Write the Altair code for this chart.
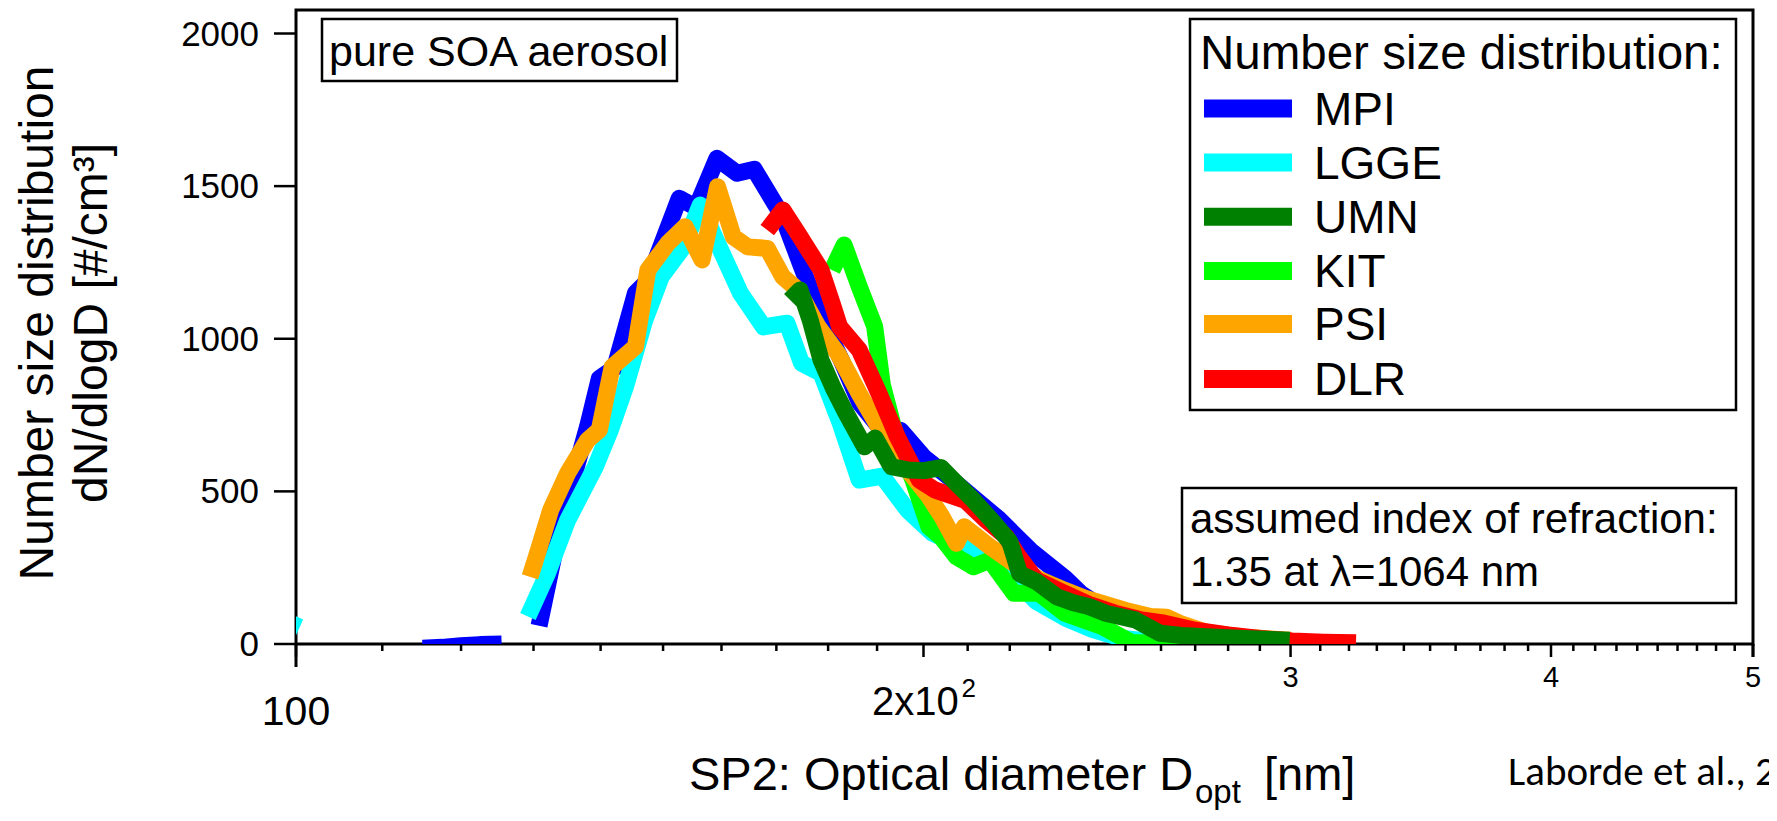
import altair as alt
import pandas as pd

# ---------------- data ----------------
labs = ["MPI", "LGGE", "UMN", "KIT", "PSI", "DLR"]
colors = ["#0000FF", "#00FFFF", "#008000", "#00FF00", "#FFA500", "#FF0000"]
draw_order = ["MPI", "LGGE", "KIT", "PSI", "DLR", "UMN"]

mpi_a_d = [115, 117.5, 120, 122.5, 125.5]
mpi_a_v = [-14, -11, -6, -2, 0]
mpi_d = [130.8, 134, 138, 139.8, 142.2, 145.5, 147.5, 152.7, 155.6, 159.2, 162.8, 165.9,
         171.2, 174.8, 178.5, 182.5, 186.4, 190.4, 195, 200.2, 205, 211.4, 217.3, 225.2,
         233.9, 238, 243, 249.3, 258, 267.4, 280, 290, 299.7]
mpi_v = [60, 400, 712, 870, 905, 1150, 1190, 1460, 1430, 1591, 1542, 1555,
         1400, 1236, 1075, 935, 790, 712, 700, 610, 555, 478, 410, 305,
         215, 165, 125, 95, 65, 45, 25, 15, 8]

lgge_a_d = [96, 100.4]
lgge_a_v = [115, 55]
lgge_d = [129.2, 132, 135, 139.2, 141.5, 143.9, 147, 149.7, 153.4, 156.3, 159.3, 163.4,
          167.6, 172, 174.8, 178.6, 182.5, 186.3, 191.1, 196.5, 202, 206, 211.3, 215,
          220, 226.5, 234, 241, 249.2, 260, 270, 280]
lgge_v = [90, 230, 406, 581, 700, 843, 1061, 1203, 1301, 1438, 1313, 1149,
          1039, 1051, 920, 887, 720, 537, 550, 439, 363, 335, 308, 297,
          230, 140, 85, 48, 18, 6, 2, 0]

kit_d = [180.8, 183.2, 186.3, 189.5, 191.1, 194, 197.7, 201.2, 203.9, 207.4, 211.3, 215.2,
         221, 227.2, 233.8, 243.6, 251.7, 261, 275, 290]
kit_v = [1225, 1307, 1171, 1040, 850, 680, 537, 384, 351, 286, 253, 275,
         166, 166, 101, 57, 5, 2, 0, 0]

psi_d = [129.5, 130.6, 132.5, 135, 138, 139.8, 141.8, 145.5, 147.5, 150.8, 153.7, 156.6,
         159.3, 162.1, 164.7, 168.3, 171.2, 174.1, 178, 182, 186.3, 190, 195, 201.2,
         204, 207.4, 209.2, 215.2, 222.2, 227.5, 233, 239, 250, 257, 261.6, 266, 273.4,
         285, 300]
psi_v = [220, 300, 440, 560, 668, 701, 908, 974, 1225, 1313, 1367, 1258,
         1498, 1334, 1301, 1296, 1203, 1160, 1040, 950, 820, 720, 600, 483,
         420, 330, 384, 319, 253, 210, 180, 150, 110, 90, 88, 65, 38,
         22, 12]

umn_d = [172.6, 174.5, 176.5, 178.6, 181, 183.6, 187.4, 189.6, 193, 196.7, 200.1, 203.9,
         207.5, 211.3, 216, 220, 222.4, 226.5, 231.7, 236, 240.2, 244.8, 252.7, 259.7,
         266, 273.4, 285, 299.7]
umn_v = [1127, 1160, 1060, 930, 840, 756, 646, 675, 581, 570, 568, 578,
         525, 472, 400, 335, 230, 205, 155, 135, 122, 100, 79, 35,
         28, 24, 18, 12]

dlr_d = [168.3, 171.2, 174.1, 178.6, 180.8, 182.3, 186.3, 190.4, 194.3, 199.1, 202.5, 209.5,
         214, 219.1, 222, 226.5, 233.8, 240, 247.1, 254, 261, 270, 280, 290, 300.5, 311, 322.5]
dlr_v = [1356, 1422, 1345, 1225, 1116, 1039, 963, 821, 679, 537, 505, 470,
         410, 352, 290, 210, 166, 130, 101, 80, 68, 45, 30, 18, 10, 6, 4]

x_major = [100, 200, 300, 400, 500]
x_minor = [110, 120, 130, 140, 150, 160, 170, 180, 190,
           210, 220, 230, 240, 250, 260, 270, 280, 290,
           310, 320, 330, 340, 350, 360, 370, 380, 390,
           410, 420, 430, 440, 450, 460, 470, 480, 490]
y_ticks = [0, 500, 1000, 1500, 2000]

# ---------------- build tables ----------------
rows = []
def add(lab, seg, ds, vs):
    for d, v in zip(ds, vs):
        rows.append({"lab": lab, "seg": seg, "d": d, "v": v})

add("MPI", "MPI_a", mpi_a_d, mpi_a_v)
add("MPI", "MPI_b", mpi_d, mpi_v)
add("LGGE", "LGGE_a", lgge_a_d, lgge_a_v)
add("LGGE", "LGGE_b", lgge_d, lgge_v)
add("KIT", "KIT", kit_d, kit_v)
add("PSI", "PSI", psi_d, psi_v)
add("UMN", "UMN", umn_d, umn_v)
add("DLR", "DLR", dlr_d, dlr_v)
df = pd.DataFrame(rows)
col = dict(zip(labs, colors))

FONT = "Liberation Sans"
sx = alt.Scale(type="log", domain=[100, 500], nice=False)
sy = alt.Scale(domain=[0, 2077], nice=False, zero=False)
W, H = 1457, 634
LW = 17

def X(f="d"):
    return alt.X(f"{f}:Q", scale=sx, axis=None)

def Y(f="v"):
    return alt.Y(f"{f}:Q", scale=sy, axis=None)

layers = []

# lines
for lab in draw_order:
    layers.append(
        alt.Chart(df).transform_filter(alt.datum.lab == lab)
        .mark_line(clip=True, strokeWidth=LW, strokeCap="butt", strokeJoin="round", color=col[lab])
        .encode(x=X(), y=Y(), detail="seg:N")
    )

# x ticks
maj = pd.DataFrame({"d": x_major})
mnr = pd.DataFrame({"d": x_minor})
layers.append(alt.Chart(maj).mark_rule(color="black", strokeWidth=2.5)
              .encode(x=X(), y=alt.value(H), y2=alt.value(H + 13)))
layers.append(alt.Chart(mnr).mark_rule(color="black", strokeWidth=2.5)
              .encode(x=X(), y=alt.value(H), y2=alt.value(H + 7)))

# axis line extensions below the x axis
ext = pd.DataFrame({"d": [100]})
layers.append(alt.Chart(ext).mark_rule(color="black", strokeWidth=3)
              .encode(x=alt.value(0), y=alt.value(H), y2=alt.value(H + 23)))
layers.append(alt.Chart(ext).mark_rule(color="black", strokeWidth=3)
              .encode(x=alt.value(W), y=alt.value(H), y2=alt.value(H + 13)))

# x tick labels
lab100 = pd.DataFrame({"d": [100], "t": ["100"]})
layers.append(alt.Chart(lab100).mark_text(font=FONT, fontSize=41, align="center", baseline="alphabetic")
              .encode(x=X(), y=alt.value(715), text="t:N"))
lab200 = pd.DataFrame({"d": [200], "t": ["2x10"], "s": ["2"]})
layers.append(alt.Chart(lab200).mark_text(font=FONT, fontSize=40, align="center", baseline="alphabetic", dx=-8)
              .encode(x=X(), y=alt.value(705), text="t:N"))
layers.append(alt.Chart(lab200).mark_text(font=FONT, fontSize=26, align="left", baseline="alphabetic", dx=38)
              .encode(x=X(), y=alt.value(687), text="s:N"))
lab345 = pd.DataFrame({"d": [300, 400, 500], "t": ["3", "4", "5"]})
layers.append(alt.Chart(lab345).mark_text(font=FONT, fontSize=29, align="center", baseline="alphabetic")
              .encode(x=X(), y=alt.value(677), text="t:N"))

# y ticks and labels
yt = pd.DataFrame({"v": y_ticks, "t": [str(v) for v in y_ticks]})
layers.append(alt.Chart(yt).mark_rule(color="black", strokeWidth=2.5)
              .encode(y=Y(), x=alt.value(-22), x2=alt.value(0)))
layers.append(alt.Chart(yt).mark_text(font=FONT, fontSize=35, align="right", baseline="middle", dy=1)
              .encode(y=Y(), x=alt.value(-37), text="t:N"))

# y title (two lines, rotated)
yt1 = pd.DataFrame({"t": ["Number size distribution"]})
yt2 = pd.DataFrame({"t": ["dN/dlogD [#/cm³]"]})
layers.append(alt.Chart(yt1).mark_text(font=FONT, fontSize=48, angle=270, align="center", baseline="alphabetic")
              .encode(x=alt.value(-243), y=alt.value(313), text="t:N"))
layers.append(alt.Chart(yt2).mark_text(font=FONT, fontSize=48, angle=270, align="center", baseline="alphabetic")
              .encode(x=alt.value(-189), y=alt.value(313), text="t:N"))

# x title with subscript
xt1 = pd.DataFrame({"t": ["SP2: Optical diameter D"]})
xt2 = pd.DataFrame({"t": ["opt"]})
xt3 = pd.DataFrame({"t": ["[nm]"]})
layers.append(alt.Chart(xt1).mark_text(font=FONT, fontSize=47, align="left", baseline="alphabetic")
              .encode(x=alt.value(393), y=alt.value(780), text="t:N"))
layers.append(alt.Chart(xt2).mark_text(font=FONT, fontSize=33, align="left", baseline="alphabetic")
              .encode(x=alt.value(899), y=alt.value(793), text="t:N"))
layers.append(alt.Chart(xt3).mark_text(font=FONT, fontSize=47, align="left", baseline="alphabetic")
              .encode(x=alt.value(968), y=alt.value(780), text="t:N"))

# citation (cut at the right edge, as in the original figure)
cit = pd.DataFrame({"t": ["Laborde et al., 2012"]})
layers.append(alt.Chart(cit).mark_text(font="Carlito, Lato, Liberation Sans Narrow", fontSize=41, align="left", baseline="alphabetic")
              .encode(x=alt.value(1212), y=alt.value(775), text="t:N"))

# "pure SOA aerosol" box
box1 = pd.DataFrame({"t": ["pure SOA aerosol"]})
layers.append(alt.Chart(box1).mark_rect(fill="white", stroke="black", strokeWidth=2.5)
              .encode(x=alt.value(26), x2=alt.value(381), y=alt.value(9), y2=alt.value(71)))
layers.append(alt.Chart(box1).mark_text(font=FONT, fontSize=43, align="left", baseline="alphabetic")
              .encode(x=alt.value(33), y=alt.value(55.5), text="t:N"))

# legend box
lt = pd.DataFrame({"t": ["Number size distribution:"]})
layers.append(alt.Chart(lt).mark_rect(fill="white", stroke="black", strokeWidth=2.5)
              .encode(x=alt.value(894), x2=alt.value(1440), y=alt.value(9), y2=alt.value(400)))
layers.append(alt.Chart(lt).mark_text(font=FONT, fontSize=47.5, align="left", baseline="alphabetic")
              .encode(x=alt.value(904), y=alt.value(59), text="t:N"))
row_y = [98.5, 152.5, 206.7, 261, 314, 369]
for lab, ry in zip(labs, row_y):
    one = pd.DataFrame({"t": [lab]})
    layers.append(alt.Chart(one).mark_rule(color=col[lab], strokeWidth=18, strokeCap="butt")
                  .encode(x=alt.value(908), x2=alt.value(996), y=alt.value(ry)))
    layers.append(alt.Chart(one).mark_text(font=FONT, fontSize=46, align="left", baseline="alphabetic")
                  .encode(x=alt.value(1018), y=alt.value(ry + 16), text="t:N"))

# refraction box
rf = pd.DataFrame({"t": ["assumed index of refraction:", "1.35 at λ=1064 nm"]})
layers.append(alt.Chart(rf.head(1)).mark_rect(fill="white", stroke="black", strokeWidth=2.5)
              .encode(x=alt.value(886), x2=alt.value(1440), y=alt.value(478), y2=alt.value(593)))
layers.append(alt.Chart(rf.head(1)).mark_text(font=FONT, fontSize=42, align="left", baseline="alphabetic")
              .encode(x=alt.value(894), y=alt.value(522.7), text="t:N"))
layers.append(alt.Chart(rf.tail(1)).mark_text(font=FONT, fontSize=42, align="left", baseline="alphabetic")
              .encode(x=alt.value(894), y=alt.value(576), text="t:N"))

chart = alt.layer(*layers).properties(
    width=W, height=H,
    autosize=alt.AutoSizeParams(type="none"),
    padding={"left": 288, "top": 2, "right": 16, "bottom": 169},
).configure_view(stroke="black", strokeWidth=3)

chart.save("out.html", embed_options={"renderer": "svg", "actions": False})
